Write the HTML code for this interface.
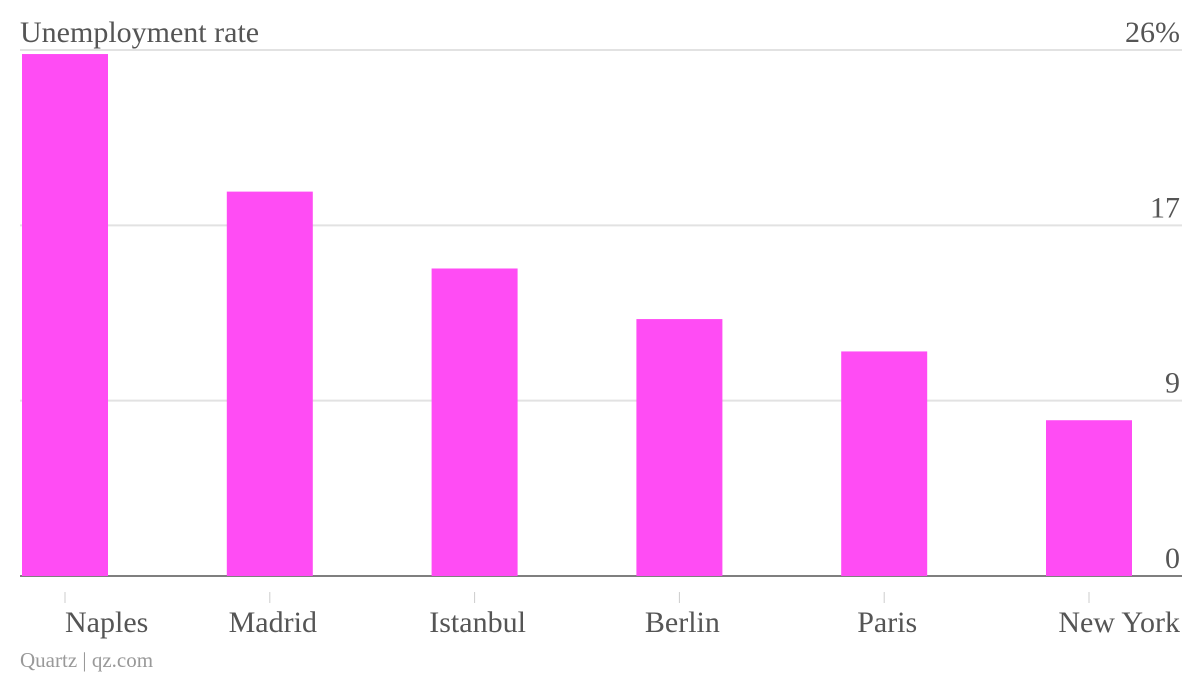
<!DOCTYPE html>
<html><head><meta charset="utf-8"><style>
html,body{margin:0;padding:0;background:#fff;}
svg{display:block;font-family:"Liberation Serif",serif;}
</style></head><body>
<svg id="chart" width="1200" height="676">
<text x="20" y="42" font-size="30" fill="#555">Unemployment rate</text>
<text x="20" y="667" font-size="21" fill="#999">Quartz | qz.com</text>
<g id="grid"></g><g id="bars"></g><g id="xaxis"></g>
</svg>
<script>
const categories=["Naples","Madrid","Istanbul","Berlin","Paris","New York"];
const values=[25.8,19.0,15.2,12.7,11.1,7.7];
const tickValues=[0,8.667,17.333,26];
const tickLabels=["0","9","17","26%"];
const NS="http://www.w3.org/2000/svg";
const y0=576,y1=50,vmax=26;
const y=v=>y0-(v/vmax)*(y0-y1);
const x0=22,step=204.8,bw=86;
const x=i=>x0+i*step;
function mk(t,a,p){const e=document.createElementNS(NS,t);for(const k in a)e.setAttribute(k,a[k]);p.appendChild(e);return e;}
const grid=document.getElementById('grid'),bars=document.getElementById('bars'),xa=document.getElementById('xaxis');
tickValues.forEach((v,i)=>{
 const l=mk('line',{x1:20,x2:1182,y1:y(v),y2:y(v),stroke:i===0?'#555':'#e2e2e2','stroke-width':i===0?1.5:2},grid);
 
 
 const t=mk('text',{x:1180,y:y(v)-8,'text-anchor':'end','font-size':30,fill:'#555'},grid);
 t.textContent=tickLabels[i];
 
 
});
values.forEach((v,i)=>{
 const r=mk('rect',{x:x(i),y:y(v),width:bw,height:y0-y(v),fill:'#ff4cf4'},bars);
 
 
 const cx=x(i)+bw/2;
 const tk=mk('line',{x1:cx,x2:cx,y1:592,y2:603,stroke:'#ccc','stroke-width':1},xa);
 
 
 let anchor='middle',tx=cx+3;
 if(i===0){anchor='start';tx=cx;}
 if(i===categories.length-1){anchor='end';tx=1180;}
 const t=mk('text',{x:tx,y:632,'text-anchor':anchor,'font-size':30,fill:'#555'},xa);
 t.textContent=categories[i];
 
 
});
</script>
</body></html>
